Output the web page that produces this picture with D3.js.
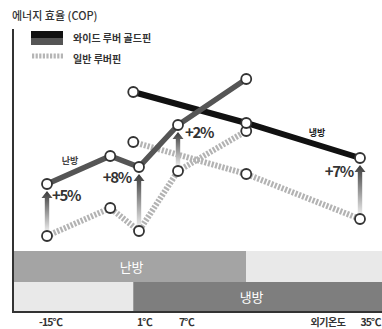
<!DOCTYPE html>
<html>
<head>
<meta charset="utf-8">
<script src="https://cdn.jsdelivr.net/npm/d3@7"></script>
<style>
  html, body { margin: 0; padding: 0; background: #fff; }
  svg { display: block; }
  text { font-family: "Noto Sans CJK KR", "Noto Sans", sans-serif; }
</style>
</head>
<body>
<script>
// Outdoor temperatures (℃) at which each mode was measured
const heatingTemps = [-15, -4, 1, 7, 17.5];
const coolingTemps = [0, 17.5, 35];

// Relative energy efficiency (COP index)
const heatingGold   = [33, 47, 41.5, 62.5, 85.5];   // 와이드 루버 골드핀, 난방
const heatingNormal = [7, 21, 9.5, 39.5, 59.5];     // 일반 루버핀, 난방
const coolingGold   = [79, 63.5, 46];               // 와이드 루버 골드핀, 냉방
const coolingNormal = [54, 38, 15.5];               // 일반 루버핀, 냉방

// Improvement call-outs: temperature, series, label
const gainTemps   = [-15, 1, 7, 35];
const gainModes   = ["heat", "heat", "heat", "cool"];
const gainLabels  = ["+5%", "+8%", "+2%", "+7%"];

const tickTemps  = [-15, 1, 7, 35];
const tickLabels = ["-15℃", "1℃", "7℃", "35℃"];

const W = 382, H = 329;
const svg = d3.select("body").append("svg").attr("width", W).attr("height", H);

// Temperature axis is drawn piecewise (not to scale between the marked ticks)
const x = d3.scaleLinear().domain([-15, 1, 7, 35]).range([47, 139, 178, 360]);
const y = d3.scaleLinear().domain([0, 100]).range([250, 50]);

const axisLeft = 13, axisBottom = 312;
const bandTop = 251, bandMid = 282;

// ---- Title
svg.append("text").attr("x", 12).attr("y", 20)
  .attr("font-size", 11).attr("font-weight", 500).attr("fill", "#333").text("에너지 효율 (COP)");

// ---- Legend
const lg = svg.append("g");
lg.append("rect").attr("x", 31).attr("y", 31).attr("width", 32).attr("height", 7).attr("fill", "#111");
lg.append("rect").attr("x", 31).attr("y", 38).attr("width", 32).attr("height", 7).attr("fill", "#555");
lg.append("line").attr("x1", 32).attr("x2", 63).attr("y1", 56).attr("y2", 56)
  .attr("stroke", "#b5b5b5").attr("stroke-width", 5).attr("stroke-dasharray", "2.2,1.4");
lg.append("text").attr("x", 73).attr("y", 42).attr("font-size", 10).attr("font-weight", 700)
  .attr("fill", "#333").text("와이드 루버 골드핀");
lg.append("text").attr("x", 73).attr("y", 63).attr("font-size", 10).attr("font-weight", 700)
  .attr("fill", "#333").text("일반 루버핀");

// ---- Mode bands
const heatEnd = x(d3.max(heatingTemps));
const coolStart = x(d3.min(coolingTemps));
const bands = svg.append("g");
bands.append("rect").attr("x", axisLeft).attr("y", bandTop).attr("width", heatEnd - axisLeft)
  .attr("height", bandMid - bandTop).attr("fill", "#a4a4a4");
bands.append("rect").attr("x", heatEnd).attr("y", bandTop).attr("width", W - heatEnd)
  .attr("height", bandMid - bandTop).attr("fill", "#e9e9e9");
bands.append("rect").attr("x", axisLeft).attr("y", bandMid).attr("width", coolStart - axisLeft)
  .attr("height", axisBottom - bandMid).attr("fill", "#e9e9e9");
bands.append("rect").attr("x", coolStart).attr("y", bandMid).attr("width", W - coolStart)
  .attr("height", axisBottom - bandMid).attr("fill", "#7e7e7e");
bands.append("text").attr("x", (axisLeft + heatEnd) / 2 + 2).attr("y", (bandTop + bandMid) / 2 + 5)
  .attr("text-anchor", "middle").attr("font-size", 13).attr("fill", "#fff").text("난방");
bands.append("text").attr("x", (coolStart + W) / 2 - 6).attr("y", (bandMid + axisBottom) / 2 + 5)
  .attr("text-anchor", "middle").attr("font-size", 13).attr("fill", "#fff").text("냉방");

// ---- Axis frame
svg.append("line").attr("x1", axisLeft).attr("x2", axisLeft).attr("y1", 29).attr("y2", axisBottom + 1)
  .attr("stroke", "#333").attr("stroke-width", 2);
svg.append("line").attr("x1", axisLeft).attr("x2", W).attr("y1", axisBottom).attr("y2", axisBottom)
  .attr("stroke", "#333").attr("stroke-width", 2);

// Tick labels
const xAxis = d3.axisBottom(x).tickValues(tickTemps)
  .tickFormat((d, i) => tickLabels[i]).tickSize(0).tickPadding(0);
const gx = svg.append("g").attr("transform", `translate(0,${axisBottom})`).call(xAxis);
gx.select(".domain").remove();
gx.selectAll("text").attr("font-family", "'Liberation Sans', Arial, sans-serif")
  .attr("font-size", 10.5).attr("font-weight", 700).attr("fill", "#333")
  .attr("dx", (d, i) => [3, 5, 8, 10][i]).attr("dy", 14).attr("letter-spacing", -0.9);
svg.append("text").attr("x", 328).attr("y", 326).attr("text-anchor", "middle")
  .attr("font-size", 10).attr("font-weight", 700).attr("letter-spacing", -0.5)
  .attr("fill", "#333").text("외기온도");

// ---- Lines
const line = d3.line().x(d => x(d[0])).y(d => y(d[1]));
const zipS = (t, v) => t.map((d, i) => [d, v[i]]);

const normalStyle = s => s.attr("fill", "none").attr("stroke", "#b3b3b3")
  .attr("stroke-width", 6).attr("stroke-dasharray", "2.2,1.5");
svg.append("path").datum(zipS(heatingTemps, heatingNormal)).attr("d", line).call(normalStyle);
svg.append("path").datum(zipS(coolingTemps, coolingNormal)).attr("d", line).call(normalStyle);

svg.append("path").datum(zipS(coolingTemps, coolingGold)).attr("d", line)
  .attr("fill", "none").attr("stroke", "#111").attr("stroke-width", 6);
svg.append("path").datum(zipS(heatingTemps, heatingGold)).attr("d", line)
  .attr("fill", "none").attr("stroke", "#555").attr("stroke-width", 5.5);

// ---- Improvement arrows
const defs = svg.append("defs");
const grad = defs.append("linearGradient").attr("id", "arrowGrad")
  .attr("x1", 0).attr("y1", 1).attr("x2", 0).attr("y2", 0);
grad.append("stop").attr("offset", "0%").attr("stop-color", "#e6e6e6");
grad.append("stop").attr("offset", "100%").attr("stop-color", "#3a3a3a");

const R = 5;
gainTemps.forEach((t, i) => {
  const heat = gainModes[i] === "heat";
  const temps = heat ? heatingTemps : coolingTemps;
  const k = temps.indexOf(t);
  const gold = heat ? heatingGold[k] : coolingGold[k];
  const norm = heat ? heatingNormal[k] : coolingNormal[k];
  const cx = x(t), yTop = y(gold) + R + 2, yBot = y(norm) - R - 1;
  const head = 7, shaft = 2.2;
  svg.append("path")
    .attr("d", `M${cx - shaft},${yBot} L${cx - shaft},${yTop + head} L${cx - 5.5},${yTop + head}
                L${cx},${yTop} L${cx + 5.5},${yTop + head} L${cx + shaft},${yTop + head}
                L${cx + shaft},${yBot} Z`)
    .attr("fill", "url(#arrowGrad)");
});

// ---- Points
const drawPoints = (t, v) => svg.append("g").selectAll("circle")
  .data(zipS(t, v)).join("circle")
  .attr("cx", d => x(d[0])).attr("cy", d => y(d[1])).attr("r", R)
  .attr("fill", "#fff").attr("stroke", "#333").attr("stroke-width", 1.8);
drawPoints(heatingTemps, heatingNormal);
drawPoints(coolingTemps, coolingNormal);
drawPoints(coolingTemps, coolingGold);
drawPoints(heatingTemps, heatingGold);

// ---- Gain labels
const labelOffsets = [[5, 17, "start"], [-8, 16, "end"], [7, 13, "start"], [-7, 19, "end"]];
gainTemps.forEach((t, i) => {
  const heat = gainModes[i] === "heat";
  const temps = heat ? heatingTemps : coolingTemps;
  const k = temps.indexOf(t);
  const gold = heat ? heatingGold[k] : coolingGold[k];
  const [dx, dy, anchor] = labelOffsets[i];
  svg.append("text").attr("x", x(t) + dx).attr("y", y(gold) + dy)
    .attr("text-anchor", anchor)
    .attr("font-family", "'Liberation Sans', Arial, sans-serif")
    .attr("font-size", 15).attr("font-weight", 700).attr("letter-spacing", -1.3).attr("fill", "#333")
    .text(gainLabels[i]);
});

// ---- Series mode tags
svg.append("text").attr("x", 70).attr("y", 164).attr("text-anchor", "middle")
  .attr("font-size", 9).attr("font-weight", 700).attr("fill", "#444").text("난방");
svg.append("text").attr("x", 317).attr("y", 136).attr("text-anchor", "middle")
  .attr("font-size", 9).attr("font-weight", 700).attr("fill", "#222").text("냉방");
</script>
</body>
</html>
